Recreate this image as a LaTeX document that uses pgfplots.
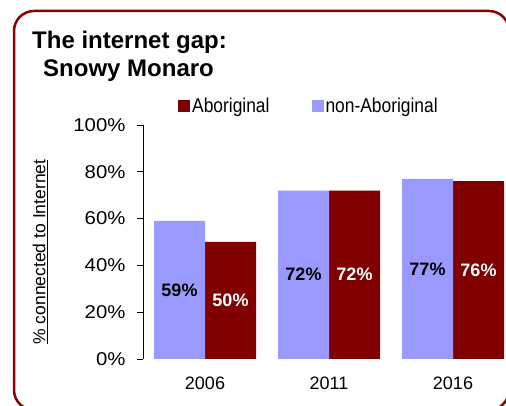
\documentclass[border=0pt]{standalone}
\usepackage{fontspec}
\setmainfont{Liberation Sans}
\newfontfamily\narrowfont{Liberation Sans}[FakeStretch=0.87]
\newfontfamily\widefont{Liberation Sans}[FakeStretch=1.1]
\usepackage{pgfplots}
\usepackage{pgfplotstable}
\pgfplotsset{compat=1.18}
\definecolor{abo}{RGB}{128,0,0}
\definecolor{non}{RGB}{153,153,255}
\definecolor{frame}{RGB}{139,0,0}

% share of households connected to the internet, %
\pgfplotstableread{
x non abo
0 59 50
1 72 72
2 77 76
}\gapdata

\begin{document}
\begin{tikzpicture}
  \useasboundingbox (0,0) rectangle (506bp,406bp);
  \clip (0,0) rectangle (506bp,406bp);
  \draw[frame, line width=2.5bp, rounded corners=20bp] (14bp,395bp) rectangle (509bp,-4bp);

  \node[anchor=base west, inner sep=0, font=\fontsize{24bp}{28bp}\selectfont\bfseries] at (32bp,357bp) {The internet gap:};
  \node[anchor=base west, inner sep=0, font=\fontsize{24bp}{28bp}\selectfont\bfseries] at (43bp,329bp) {Snowy Monaro};
  \node[rotate=90, inner sep=0, font=\fontsize{17.5bp}{20bp}\selectfont] at (40bp,154bp) {\underline{\% connected to Internet}};

  \begin{axis}[
      at={(143bp,47bp)}, anchor=south west,
      scale only axis, width=372bp, height=234bp,
      xmin=-0.5, xmax=2.5, ymin=0, ymax=100,
      xtick={0,1,2}, xticklabels={2006,2011,2016},
      ytick={0,20,...,100},
      yticklabel={\pgfmathprintnumber{\tick}\%},
      /pgf/number format/assume math mode=true,
      axis lines*=left,
      x axis line style={draw=none},
      major x tick style={draw=none},
      y axis line style={black, line width=0.8bp},
      major y tick style={black, line width=0.8bp},
      tick align=outside, major tick length=6bp,
      xticklabel style={yshift=-8bp, font=\fontsize{18bp}{20bp}\selectfont},
      yticklabel style={xshift=-8bp, font=\widefont\fontsize{18.5bp}{20bp}\selectfont},
      clip=false,
      legend columns=2,
      legend style={at={(0.094,1.081)}, anchor=west, draw=none, fill=none,
        inner sep=0pt, font=\narrowfont\fontsize{20bp}{22bp}\selectfont,
        /tikz/every even column/.append style={column sep=40bp}},
      legend image code/.code={\fill[#1] (0bp,-6bp) rectangle (12bp,6bp);},
    ]
    \addplot[ybar, bar width=51bp, bar shift=25.5bp, fill=abo, draw=none]
      table[x=x, y=abo] {\gapdata};
    \addlegendentry{Aboriginal}
    \addplot[ybar, bar width=51bp, bar shift=-25.5bp, fill=non, draw=none]
      table[x=x, y=non] {\gapdata};
    \addlegendentry{non-Aboriginal}

    \addplot[forget plot, draw=none, mark=none, point meta=explicit,
      nodes near coords={\pgfmathprintnumber{\pgfplotspointmeta}\%},
      every node near coord/.append style={anchor=center, xshift=-25.5bp,
        text=black, font=\fontsize{18bp}{20bp}\selectfont\bfseries}]
      table[x=x, y expr=\thisrow{non}/2, meta=non] {\gapdata};
    \addplot[forget plot, draw=none, mark=none, point meta=explicit,
      nodes near coords={\pgfmathprintnumber{\pgfplotspointmeta}\%},
      every node near coord/.append style={anchor=center, xshift=25.5bp,
        text=white, font=\fontsize{18bp}{20bp}\selectfont\bfseries}]
      table[x=x, y expr=\thisrow{abo}/2, meta=abo] {\gapdata};
  \end{axis}
\end{tikzpicture}
\end{document}
